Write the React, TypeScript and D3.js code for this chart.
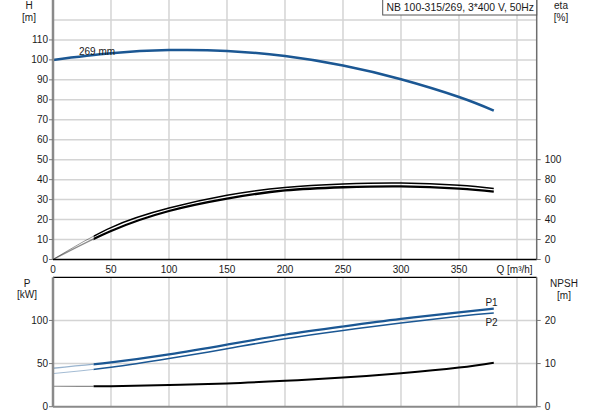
import { useEffect, useRef } from "react"
import * as d3 from "d3"

// flow rate points, m3/h
const flow = [0, 50, 100, 150, 200, 250, 300, 350, 380]
// head, m
const head = [100, 103.3, 104.9, 104.5, 101.9, 97.2, 90.3, 81.4, 74.6]
// efficiency, %
const eta1 = [0, 32, 51.5, 64.3, 72.2, 75.7, 76.7, 74.4, 71.2]
const eta2 = [0, 28.6, 48.6, 61, 69.2, 72.4, 73.3, 71.1, 68]
// power, kW
const power1 = [44.6, 51.4, 60.6, 72, 83.4, 93, 101.8, 109.3, 113.6]
const power2 = [38.4, 45.6, 55.8, 67.2, 78.8, 88.4, 97, 104.9, 108.6]
// NPSH, m
const npsh = [4.74, 4.76, 5.05, 5.4, 6.0, 6.75, 7.75, 9.07, 10.2]

const qTicks = [0, 50, 100, 150, 200, 250, 300, 350]
const qGrid = [50, 100, 150, 200, 250, 300, 350, 400]
const hTicks = [0, 10, 20, 30, 40, 50, 60, 70, 80, 90, 100, 110]
const hGrid = [10, 20, 30, 40, 50, 60, 70, 80, 90, 100, 110, 120]
const etaTicks = [0, 20, 40, 60, 80, 100]
const pTicks = [0, 50, 100]
const npshTicks = [0, 10, 20]

const title = "NB 100-315/269, 3*400 V, 50Hz"
const impeller = "269 mm"

const BLUE = "#1b5793"
const GRID = "#d4d4d4"
const FONT = "'Liberation Sans', Arial, sans-serif"

export default function App() {
  const svgRef = useRef<SVGSVGElement>(null)

  useEffect(() => {
    if (!svgRef.current) return
    const svg = d3.select(svgRef.current)
    svg.selectAll("*").remove()

    const left = 53
    const right = 536.7
    const x = d3.scaleLinear().domain([0, 417]).range([left, right])
    const yH = d3.scaleLinear().domain([0, 130]).range([259.5, 0])
    const yEta = d3.scaleLinear().domain([0, 260]).range([259.5, 0])
    const yP = d3.scaleLinear().domain([0, 150]).range([406.7, 277.3])
    const yN = d3.scaleLinear().domain([0, 30]).range([406.7, 277.3])

    const text = (tx: number, ty: number, s: string, anchor = "start", size = 10) =>
      svg
        .append("text")
        .attr("x", tx)
        .attr("y", ty)
        .attr("text-anchor", anchor)
        .attr("dy", "0.35em")
        .style("font-family", FONT)
        .style("font-size", `${size}px`)
        .style("fill", "#1a1a1a")
        .text(s)

    // clip regions: light part of curves below 35 m3/h, full part above
    const defs = svg.append("defs")
    defs.append("clipPath").attr("id", "lo")
      .append("rect").attr("x", 0).attr("y", 0).attr("width", x(35)).attr("height", 415)
    defs.append("clipPath").attr("id", "hi")
      .append("rect").attr("x", x(35)).attr("y", 0).attr("width", 593 - x(35)).attr("height", 415)

    // grid, top plot
    const g = svg.append("g")
    qGrid.forEach((q) =>
      g.append("line").attr("x1", x(q)).attr("x2", x(q)).attr("y1", 0).attr("y2", yH(0))
        .style("stroke", GRID).style("stroke-width", 1.5))
    hGrid.forEach((h) =>
      g.append("line").attr("x1", left).attr("x2", right).attr("y1", yH(h)).attr("y2", yH(h))
        .style("stroke", GRID).style("stroke-width", 1.5))
    // grid, bottom plot
    qGrid.forEach((q) =>
      g.append("line").attr("x1", x(q)).attr("x2", x(q)).attr("y1", yP(150)).attr("y2", yP(0))
        .style("stroke", GRID).style("stroke-width", 1.5))
    ;[50, 100].forEach((p) =>
      g.append("line").attr("x1", left).attr("x2", right).attr("y1", yP(p)).attr("y2", yP(p))
        .style("stroke", GRID).style("stroke-width", 1.5))

    const drawCurve = (vals: number[], y: d3.ScaleLinear<number, number>, color: string, w: number, split = true) => {
      const pts: [number, number][] = flow.map((q, i) => [x(q), y(vals[i])])
      const d = d3.line().curve(d3.curveNatural)(pts)!
      if (split) {
        svg.append("path").attr("d", d).attr("clip-path", "url(#lo)")
          .style("fill", "none").style("stroke", color).style("stroke-opacity", 0.45)
          .style("stroke-width", w * 0.6)
        svg.append("path").attr("d", d).attr("clip-path", "url(#hi)")
          .style("fill", "none").style("stroke", color).style("stroke-width", w)
      } else {
        svg.append("path").attr("d", d)
          .style("fill", "none").style("stroke", color).style("stroke-width", w)
      }
    }

    drawCurve(head, yH, BLUE, 2.5, false)
    drawCurve(eta1, yEta, "#000", 1.5)
    drawCurve(eta2, yEta, "#000", 2.3)
    drawCurve(power1, yP, BLUE, 2.2)
    drawCurve(power2, yP, BLUE, 1.5)
    drawCurve(npsh, yN, "#000", 2)

    // axes, top plot
    svg.append("line").attr("x1", left).attr("x2", left).attr("y1", 0).attr("y2", yH(0))
      .style("stroke", "#8a8a8a").style("stroke-width", 2.5)
    svg.append("line").attr("x1", right).attr("x2", right).attr("y1", 0).attr("y2", yH(0))
      .style("stroke", "#6e6e6e").style("stroke-width", 1.5)
    svg.append("line").attr("x1", left).attr("x2", right).attr("y1", yH(0)).attr("y2", yH(0))
      .style("stroke", "#000").style("stroke-width", 1.5)
    hTicks.forEach((h) => {
      svg.append("line").attr("x1", left - 4).attr("x2", left).attr("y1", yH(h)).attr("y2", yH(h))
        .style("stroke", "#777").style("stroke-width", 1)
      text(left - 5, yH(h), String(h), "end")
    })
    etaTicks.forEach((e) => {
      svg.append("line").attr("x1", right).attr("x2", right + 4).attr("y1", yEta(e)).attr("y2", yEta(e))
        .style("stroke", "#777").style("stroke-width", 1)
      text(right + 8, yEta(e), String(e))
    })
    qTicks.forEach((q) => text(x(q), 269.5, String(q), "middle"))
    text(496.5, 269.5, "Q [m³/h]")
    text(29, 5, "H", "middle")
    text(29, 17, "[m]", "middle")
    text(561, 5, "eta", "middle")
    text(561, 17, "[%]", "middle")
    text(79, 51, impeller)

    // title box
    svg.append("rect").attr("x", 382.7).attr("y", -1).attr("width", right - 382.7).attr("height", 16)
      .style("fill", "#fff").style("stroke", "#555").style("stroke-width", 1)
    text(386.5, 7.5, title, "start", 10.4)

    // axes, bottom plot
    svg.append("line").attr("x1", left).attr("x2", right).attr("y1", yP(150)).attr("y2", yP(150))
      .style("stroke", "#000").style("stroke-width", 1.2)
    svg.append("line").attr("x1", left).attr("x2", left).attr("y1", yP(150)).attr("y2", yP(0))
      .style("stroke", "#8a8a8a").style("stroke-width", 2.5)
    svg.append("line").attr("x1", right).attr("x2", right).attr("y1", yP(150)).attr("y2", yP(0))
      .style("stroke", "#6e6e6e").style("stroke-width", 1.5)
    svg.append("line").attr("x1", left).attr("x2", right).attr("y1", yP(0)).attr("y2", yP(0))
      .style("stroke", "#8a8a8a").style("stroke-width", 2)
    pTicks.forEach((p) => {
      svg.append("line").attr("x1", left - 4).attr("x2", left).attr("y1", yP(p)).attr("y2", yP(p))
        .style("stroke", "#777").style("stroke-width", 1)
      text(left - 5, yP(p), String(p), "end")
    })
    npshTicks.forEach((n) => {
      svg.append("line").attr("x1", right).attr("x2", right + 4).attr("y1", yN(n)).attr("y2", yN(n))
        .style("stroke", "#777").style("stroke-width", 1)
      text(right + 8, yN(n), String(n))
    })
    text(27, 283, "P", "middle")
    text(27, 294.5, "[kW]", "middle")
    text(564, 283, "NPSH", "middle")
    text(564, 295, "[m]", "middle")
    text(491.5, 302.5, "P1", "middle")
    text(491.5, 322, "P2", "middle")
  }, [])

  return (
    <svg
      ref={svgRef}
      width={593}
      height={415}
      style={{ position: "absolute", left: 0, top: 0, background: "#fff" }}
    />
  )
}
